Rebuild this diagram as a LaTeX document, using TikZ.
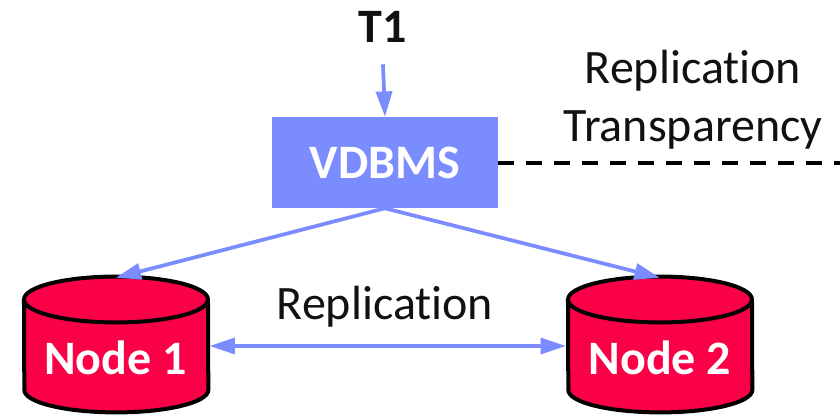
\documentclass[tikz,border=0pt]{standalone}
\usepackage{fontspec}
\setmainfont[Ligatures=NoCommon]{Carlito}
\usetikzlibrary{arrows.meta}
\definecolor{vblue}{HTML}{7B8CFF}
\definecolor{vred}{HTML}{FA0046}
\definecolor{ink}{HTML}{111111}
\tikzset{
  flow/.style={draw=vblue,line width=2.8pt,-{Triangle[length=19pt,width=12pt]}},
  flowboth/.style={draw=vblue,line width=2.4pt,{Triangle[length=19pt,width=12pt]}-{Triangle[length=19pt,width=12pt]}},
  dbanchor/.style={minimum width=140.25pt,minimum height=102pt,inner sep=0pt},
  dbbody/.style={draw=black,line width=3pt,fill=vred,line join=round},
  dbtext/.style={text=white,font=\fontsize{36}{40}\selectfont\bfseries,inner sep=0pt},
  label/.style={text=ink,font=\fontsize{36}{43.5}\selectfont,inner sep=0pt,align=center},
}
\newcommand{\dbdraw}[1]{%
  \path[dbbody] ([xshift=1.5pt]#1.west |- 0,299.5) arc[start angle=180,end angle=0,x radius=69pt,y radius=17.2pt]
     -- ([xshift=-0.9pt]#1.east |- 0,390) arc[start angle=360,end angle=180,x radius=69pt,y radius=16.8pt] -- cycle;
  \path[dbbody,fill=none] ([xshift=1.5pt]#1.west |- 0,299.5) arc[start angle=180,end angle=360,x radius=69pt,y radius=17.2pt];
}
\begin{document}
\begin{tikzpicture}[x=0.75pt,y=-0.75pt]
\useasboundingbox (0,0) rectangle (840,415);
\node[fill=vblue,minimum width=169.5pt,minimum height=68.25pt,inner sep=0pt,text=white,font=\fontsize{36}{40}\selectfont\bfseries] (vdbms) at (385,162.5) {\raisebox{-1pt}{VDBMS}};
\node[label,font=\fontsize{36}{40}\selectfont\bfseries,minimum height=54pt] (t1) at (383,28) {\raisebox{2pt}{T1}};
\node[dbanchor] (n1) at (115.75,346) {};
\node[dbanchor] (n2) at (659.75,346) {};
\dbdraw{n1}
\dbdraw{n2}
\node[dbtext] (n1t) at (115.5,358) {Node 1};
\node[dbtext] (n2t) at (660,358) {Node 2};
\node[label] (rep) at (385,307) {Replication};
\node[label,text width=230pt] (rt) at (693,100) {Replication\\Transparency};
\coordinate (dashend) at (840,163);
\draw[flow] (t1.south) -- (vdbms.north);
\draw[flow] (vdbms.south) -- (n1.north);
\draw[flow] (vdbms.south) -- (n2.north);
\draw[flowboth] (n1.east) -- (n2.west);
\draw[line width=3pt,dash pattern=on 12pt off 9pt] (vdbms.east |- dashend) -- (dashend);
\end{tikzpicture}
\end{document}
